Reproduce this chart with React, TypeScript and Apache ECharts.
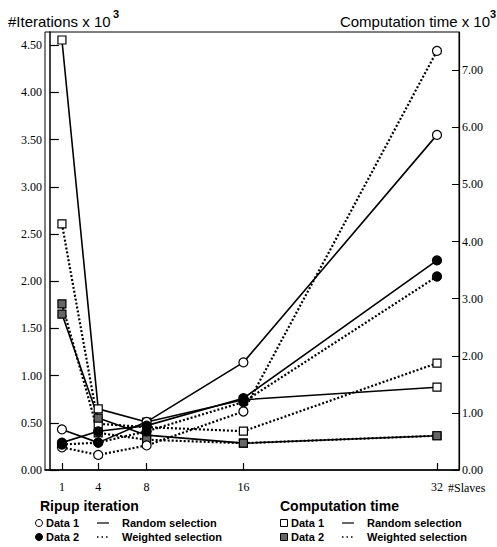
import React, { useEffect, useRef } from "react";
import * as echarts from "echarts";

const xVals = [1, 4, 8, 16, 32];
const leftTicks = [0, 0.5, 1, 1.5, 2, 2.5, 3, 3.5, 4, 4.5];
const rightTicks = [0, 1, 2, 3, 4, 5, 6, 7];

// Ripup iteration (left axis, x 10^3)
const iterD1Random = [0.43, 0.29, 0.51, 1.14, 3.55];
const iterD1Weighted = [0.24, 0.16, 0.26, 0.62, 4.44];
const iterD2Random = [0.29, 0.41, 0.47, 0.76, 2.22];
const iterD2Weighted = [0.27, 0.29, 0.41, 0.72, 2.05];

// Computation time (right axis, x 10^3)
const timeD1Random = [7.53, 1.07, 0.84, 1.23, 1.45];
const timeD1Weighted = [4.31, 0.81, 0.75, 0.68, 1.87];
const timeD2Random = [2.73, 0.91, 0.61, 0.47, 0.6];
const timeD2Weighted = [2.91, 0.65, 0.53, 0.47, 0.6];

const SERIF = "Liberation Serif";
const SANS = "Liberation Sans";
const HATCH = "#666";

function mk(name: string, vals: number[], yAxisIndex: number, symbol: string, fill: string, dotted: boolean) {
  return {
    name,
    type: "line",
    yAxisIndex,
    data: xVals.map((x, i) => [x, vals[i]]),
    symbol,
    symbolSize: symbol === "circle" ? 9 : 8,
    showSymbol: true,
    lineStyle: { color: "#000", width: dotted ? 2.2 : 1.6, type: dotted ? [2, 2] : "solid" },
    itemStyle: { color: fill, borderColor: "#000", borderWidth: 1.2 },
    emphasis: { disabled: true },
    z: symbol === "circle" ? 3 : 2,
  };
}

export default function App() {
  const ref = useRef<HTMLDivElement>(null);
  useEffect(() => {
    const chart = echarts.init(ref.current!, null, { renderer: "svg" });
    const legendRow = (x0: number, y: number, isCircle: boolean, filled: boolean, label: string, dotted: boolean, selLabel: string) => {
      const els: any[] = [];
      if (isCircle) {
        els.push({ type: "circle", shape: { cx: x0, cy: y, r: 3.5 }, style: { fill: filled ? "#000" : "#fff", stroke: "#000", lineWidth: 1 } });
      } else {
        els.push({ type: "rect", shape: { x: x0 - 3.5, y: y - 3.5, width: 7, height: 7 }, style: { fill: filled ? HATCH : "#fff", stroke: "#000", lineWidth: 1 } });
      }
      els.push({ type: "text", x: x0 + 7, y, style: { text: label, font: `bold 11px "${SANS}"`, fill: "#000", verticalAlign: "middle" } });
      els.push({ type: "line", shape: { x1: x0 + 58, y1: y, x2: x0 + 70, y2: y }, style: { stroke: "#000", lineWidth: dotted ? 1.6 : 1.2, lineDash: dotted ? [1.5, 3] : null } });
      els.push({ type: "text", x: x0 + 83, y, style: { text: selLabel, font: `bold 11px "${SANS}"`, fill: "#000", verticalAlign: "middle" } });
      return els;
    };
    chart.setOption({
      animation: false,
      backgroundColor: "#fff",
      grid: { left: 45, right: 38, top: 32, bottom: 77, show: true, borderColor: "#000", borderWidth: 1 },
      xAxis: {
        type: "value",
        min: -0.4,
        max: 33.82,
        axisLine: { lineStyle: { color: "#000", width: 1.5 } },
        axisTick: { inside: true, length: 7, customValues: xVals, lineStyle: { color: "#000", width: 1.2 } },
        axisLabel: { customValues: xVals, margin: 11, color: "#000", fontFamily: SERIF, fontSize: 12 },
        splitLine: { show: false },
      },
      yAxis: [
        {
          type: "value",
          position: "left",
          min: 0,
          max: 4.64,
          axisLine: { show: true, lineStyle: { color: "#000", width: 1.5 } },
          axisTick: { show: true, inside: true, length: 9, customValues: leftTicks, lineStyle: { color: "#000", width: 1.2 } },
          axisLabel: { customValues: leftTicks, margin: 3, color: "#000", fontFamily: SERIF, fontSize: 12, formatter: (v: number) => v.toFixed(2) },
          splitLine: { show: false },
        },
        {
          type: "value",
          position: "right",
          min: 0,
          max: 7.67,
          axisLine: { show: true, lineStyle: { color: "#000", width: 1.2 } },
          axisTick: { show: true, inside: true, length: 7, customValues: rightTicks, lineStyle: { color: "#000", width: 1 } },
          axisLabel: { customValues: rightTicks, margin: 3, color: "#000", fontFamily: SERIF, fontSize: 12, formatter: (v: number) => v.toFixed(2) },
          splitLine: { show: false },
        },
      ],
      series: [
        mk("Time Data 1 Random", timeD1Random, 1, "rect", "#fff", false),
        mk("Time Data 1 Weighted", timeD1Weighted, 1, "rect", "#fff", true),
        mk("Time Data 2 Random", timeD2Random, 1, "rect", HATCH, false),
        mk("Time Data 2 Weighted", timeD2Weighted, 1, "rect", HATCH, true),
        mk("Iter Data 1 Random", iterD1Random, 0, "circle", "#fff", false),
        mk("Iter Data 1 Weighted", iterD1Weighted, 0, "circle", "#fff", true),
        mk("Iter Data 2 Random", iterD2Random, 0, "circle", "#000", false),
        mk("Iter Data 2 Weighted", iterD2Weighted, 0, "circle", "#000", true),
      ],
      graphic: [
        { type: "text", x: 8, y: 21, style: { text: "#Iterations x 10", font: `15px "${SANS}"`, fill: "#000", verticalAlign: "middle" } },
        { type: "text", x: 113, y: 14, style: { text: "3", font: `bold 11px "${SANS}"`, fill: "#000", verticalAlign: "middle" } },
        { type: "text", x: 490, y: 21, style: { text: "Computation time x 10", font: `15px "${SANS}"`, fill: "#000", align: "right", verticalAlign: "middle" } },
        { type: "text", x: 490, y: 14, style: { text: "3", font: `bold 11px "${SANS}"`, fill: "#000", verticalAlign: "middle" } },
        { type: "text", x: 448, y: 488, style: { text: "#Slaves", font: `12px "${SERIF}"`, fill: "#000", verticalAlign: "middle" } },
        { type: "text", x: 40, y: 506, style: { text: "Ripup iteration", font: `bold 14px "${SANS}"`, fill: "#000", verticalAlign: "middle" } },
        { type: "text", x: 280, y: 506, style: { text: "Computation time", font: `bold 14px "${SANS}"`, fill: "#000", verticalAlign: "middle" } },
        ...legendRow(39, 523, true, false, "Data 1", false, "Random selection"),
        ...legendRow(39, 537, true, true, "Data 2", true, "Weighted selection"),
        ...legendRow(284, 523, false, false, "Data 1", false, "Random selection"),
        ...legendRow(284, 537, false, true, "Data 2", true, "Weighted selection"),
      ],
    });
    return () => chart.dispose();
  }, []);
  return <div ref={ref} style={{ position: "fixed", left: 0, top: 0, width: 497, height: 547 }} />;
}
